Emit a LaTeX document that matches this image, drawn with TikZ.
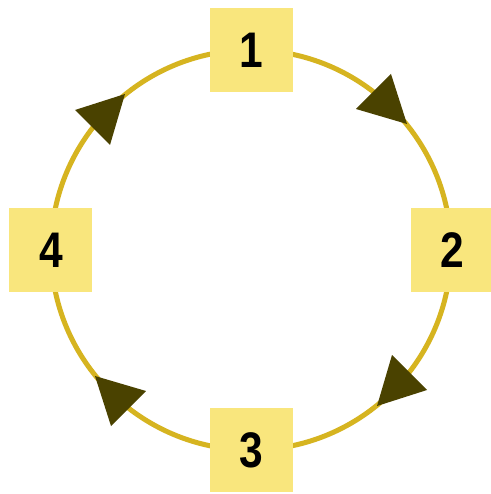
\documentclass[tikz,border=0pt]{standalone}
\usepackage{fontspec}
\newfontfamily\numfont[FakeStretch=0.85]{Liberation Sans}
\definecolor{ringcol}{HTML}{D6B420}
\definecolor{boxcol}{HTML}{F9E67D}
\definecolor{tipcol}{HTML}{4A4200}
\tikzset{
  ring/.style={draw=ringcol, line width=5pt},
  numbox/.style={fill=boxcol, draw=none, minimum width=83pt, minimum height=84pt, inner sep=0pt,
    font=\numfont\bfseries\fontsize{50pt}{50pt}\selectfont, text=black},
  flowtip/.style={fill=tipcol, draw=none}
}
\begin{document}
\begin{tikzpicture}[x=1pt,y=1pt]
\useasboundingbox (-251,-244) rectangle (239,250);
\fill[white] (-251,-244) rectangle (239,250);
\coordinate (c) at (0,0);
\draw[ring] (c) circle (200);
\foreach \r in {0,90,180,270}{
  \fill[flowtip, rotate=\r] (156,126) -- (140,176) -- (105,141) -- cycle;
}
\node[numbox] (n1) at (0,200) {1};
\node[numbox] (n2) at (201,0) {2};
\node[numbox] (n3) at (0,-200) {3};
\node[numbox] (n4) at (-200,0) {4};
\end{tikzpicture}
\end{document}
